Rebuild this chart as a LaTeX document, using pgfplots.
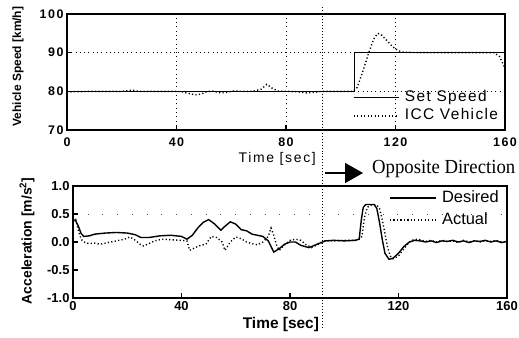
\documentclass[border=0pt]{standalone}
\usepackage{fontspec}
\setmainfont{Liberation Sans}
\newfontfamily\wide[LetterSpace=12]{Liberation Sans}
\newfontfamily\widel[LetterSpace=9]{Liberation Sans}
\newfontfamily\timesf{Liberation Serif}
\usepackage{pgfplots}
\pgfplotsset{compat=1.18}
\usetikzlibrary{arrows.meta}

\pgfplotsset{
  common/.style={
    scale only axis, anchor=south west,
    xmin=0, xmax=160,
    xtick={0,40,80,120,160}, xticklabels={0,40,80,120,160},
    tick align=inside, xtick pos=left, ytick pos=left,
    major tick length=5bp,
    axis line style={line width=1.5pt},
    every tick/.style={line width=1.1pt, black},
    clip=false,
    legend cell align=left,
  },
  sol/.style={black, line width=1.4pt},
  dot/.style={black, line width=1.4pt, dash pattern=on 1.2pt off 2.3pt},
}

\begin{document}
\begin{tikzpicture}
\useasboundingbox (0,0) rectangle (519bp,338bp);

% ---------------- top axis ----------------
\begin{axis}[common,
  at={(67bp,208bp)}, width=438bp, height=116bp,
  ymin=70, ymax=100,
  ytick={70,80,90,100}, yticklabels={70,80,90,100},
  ticklabel style={font=\wide\fontsize{12.5}{12.5}\selectfont\bfseries},
  xticklabel style={yshift=-4bp},
  grid=major, grid style={black, line width=0.8pt, dash pattern=on 0.8pt off 3.5pt},
  xlabel={Time [sec]}, ylabel={Vehicle Speed [km/h]},
  xlabel style={font=\wide\fontsize{14}{14}\selectfont, at={(axis description cs:0.48,-0.25)}, anchor=center},
  ylabel style={font=\fontsize{12}{12}\selectfont\bfseries, at={(axis description cs:-0.112,0.547)}, anchor=center, rotate=0},
  legend style={at={(axis description cs:0.653,0.36)}, anchor=north west, draw=none, fill=none,
    inner sep=0pt, outer sep=0pt,
    nodes={font=\widel\fontsize{15.5}{15.5}\selectfont, inner sep=1.5bp, text height=11.5bp, text depth=4bp}},
  legend image code/.code={\draw[#1] (0bp,0bp) -- (45bp,0bp); \path (49bp,0bp);},
]
\addplot[sol] coordinates {(0,80) (105,80) (105,90) (160,90)};
\addlegendentry{Set Speed}
\addplot[dot] coordinates {
(0,79.8)(2,79.9)(10,80)(20,80)(24,80.3)(26,80)(40,80)(42,79.9)(44,79.5)(47,79.1)(49,79.3)
(51,79.9)(53,80.1)(56,79.6)(58,79.7)(61,80.1)(64,80)(68,80)(71,80.6)(73,81.8)(75,80.8)
(77,80.1)(80,80)(84,79.9)(87,79.6)(90,79.7)(93,80)(100,80)(104.5,80)(106,81)(108,85)
(110,89.5)(112,93.5)(113.5,95)(115,94.5)(117,93)(119,91.5)(121,90.5)(123,90.1)(130,90)
(140,90)(150,90)(156,90)(158,89)(159,87.5)(160,86)};
\addlegendentry{ICC Vehicle}
\draw[black, line width=1pt, dash pattern=on 1pt off 2pt] (axis cs:93.5,101.8) -- (axis cs:93.5,19.05);
\end{axis}

% ---------------- bottom axis ----------------
\begin{axis}[common,
  at={(73bp,40bp)}, width=434bp, height=112bp,
  ymin=-1, ymax=1,
  ytick={-1,-0.5,0,0.5,1}, yticklabels={-1.0,-0.5,0.0,0.5,1.0},
  ticklabel style={font=\fontsize{13}{13}\selectfont\bfseries},
  extra y ticks={0.5}, extra y tick labels={},
  extra y tick style={grid=major, major grid style={black!70, line width=0.8pt, dash pattern=on 0.8pt off 14pt}},
  xlabel={Time [sec]}, ylabel={Acceleration [m/s\textsuperscript{2}]},
  xlabel style={font=\fontsize{15.5}{15.5}\selectfont\bfseries, at={(axis description cs:0.479,-0.241)}, anchor=center},
  ylabel style={font=\fontsize{14}{14}\selectfont\bfseries, at={(axis description cs:-0.106,0.51)}, anchor=center, rotate=0},
  legend style={at={(axis description cs:0.7285,0.99)}, anchor=north west, draw=none, fill=none,
    inner sep=0pt, outer sep=0pt,
    nodes={font=\fontsize{16.5}{16.5}\selectfont, inner sep=2.5bp, text height=13bp, text depth=4bp}},
  legend image code/.code={\draw[#1] (0bp,0bp) -- (46bp,0bp); \path (49bp,0bp);},
]
\addplot[sol] coordinates {
(0,0.40)(1,0.38)(2,0.28)(3,0.15)(4,0.10)(6,0.11)(8,0.14)(12,0.16)(16,0.17)(20,0.16)(23,0.13)
(25,0.08)(28,0.08)(32,0.11)(36,0.12)(40,0.10)(42,0.05)(44,0.12)(46,0.25)(48,0.35)(50,0.40)
(52,0.33)(54.5,0.21)(56,0.28)(58,0.36)(60,0.32)(62,0.22)(64,0.20)(66,0.14)(68,0.12)(70,0.10)
(72,0.02)(74,-0.18)(76,-0.12)(78,-0.04)(80,0.00)(82,0.00)(84,-0.06)(87,-0.10)(90,-0.04)
(93,0.02)(96,0.03)(100,0.02)(104,0.03)(105.5,0.05)(106.3,0.40)(107,0.62)(108,0.67)(111,0.67)
(112,0.60)(113,0.35)(114,0.05)(115,-0.20)(116.5,-0.31)(118,-0.29)(120,-0.20)(122,-0.08)
(124,0.00)(126,0.03)(128,0.02)(130,0.00)(132,0.02)(134,-0.01)(136,0.02)(138,0.01)(140,0.03)
(142,0.00)(144,0.02)(146,-0.01)(148,0.02)(150,0.01)(152,0.03)(154,0.00)(156,0.02)(158,-0.01)(160,0.01)};
\addlegendentry{Desired}
\addplot[dot] coordinates {
(0,0.36)(1,0.40)(2,0.20)(3,0.05)(4,0.00)(6,-0.03)(8,-0.02)(10,-0.04)(13,-0.01)(16,0.02)
(19,0.05)(21,0.09)(23,0.03)(25,-0.05)(26,-0.07)(28,-0.03)(30,0.02)(33,0.05)(36,0.04)(40,0.03)
(42,0.02)(43,-0.15)(45,-0.10)(47,-0.06)(49,-0.04)(51,0.10)(53,0.08)(55,0.00)(56,-0.15)(58,0.00)
(60,0.09)(62,0.06)(64,0.00)(66,-0.03)(68,-0.05)(70,0.00)(72,0.10)(73,0.25)(74,0.12)(75,-0.05)
(76,-0.15)(78,-0.05)(80,0.03)(82,0.05)(84,0.03)(86,-0.05)(88,-0.10)(90,-0.05)(93,0.02)(96,0.02)
(100,0.03)(105,0.03)(106.5,0.10)(107.5,0.45)(108.5,0.62)(110,0.66)(112,0.66)(113,0.60)(114,0.40)
(115,0.15)(116,-0.10)(117,-0.25)(118,-0.30)(120,-0.25)(122,-0.12)(124,0.00)(126,0.05)(128,0.04)
(130,0.01)(132,0.03)(134,0.00)(136,0.03)(138,0.01)(140,0.02)(142,-0.01)(144,0.03)(146,0.00)
(148,0.02)(150,0.00)(152,0.02)(154,0.01)(156,0.03)(158,0.00)(160,0.00)};
\addlegendentry{Actual}
\end{axis}

% annotation
\draw[black, line width=1.8pt, -{Triangle[length=18bp,width=20bp]}] (325bp,165bp) -- (363bp,165bp);
\node[anchor=west, inner sep=0pt, font=\timesf\fontsize{20}{20}\selectfont] at (372bp,169bp) {\scalebox{0.94}[1]{Opposite Direction}};
\end{tikzpicture}
\end{document}
